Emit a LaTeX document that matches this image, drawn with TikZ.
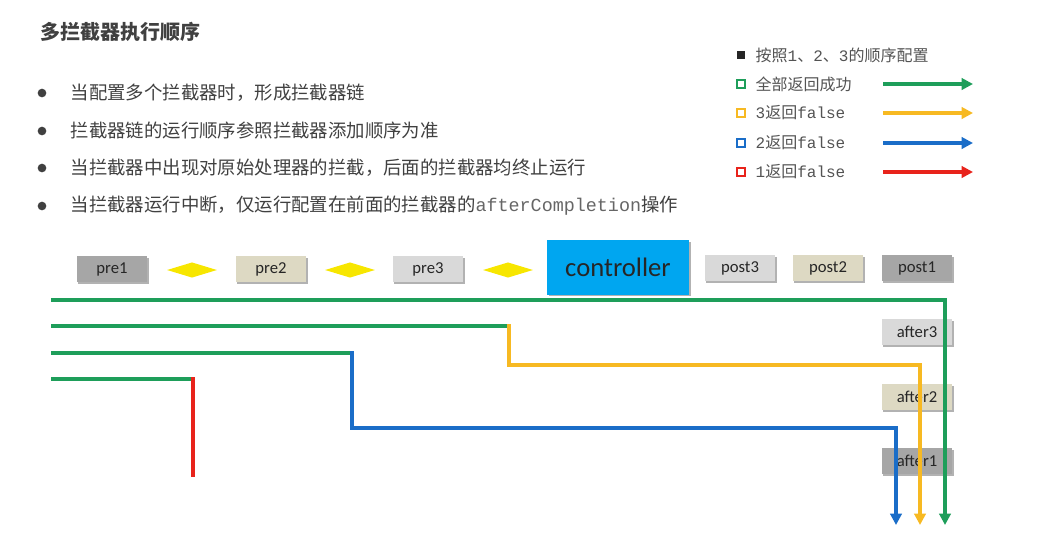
\documentclass[tikz,border=0pt]{standalone}
\usepackage{fontspec}
\setmainfont{Noto Sans CJK SC}
\setmonofont{Liberation Mono}
\newfontfamily\boxfont{Carlito}
\usepackage{xcolor}
\usepackage{tikz}
\usetikzlibrary{positioning,calc,arrows.meta,shapes.geometric,shadows}
\definecolor{txtgray}{HTML}{404040}
\definecolor{okgreen}{HTML}{1E9E5A}
\definecolor{falseyellow}{HTML}{F7B922}
\definecolor{falseblue}{HTML}{1A6DC8}
\definecolor{falsered}{HTML}{E8231B}
\definecolor{ctrlblue}{HTML}{00A6F0}
\definecolor{darkbox}{HTML}{A6A6A6}
\definecolor{beigebox}{HTML}{DDD9C3}
\definecolor{lightbox}{HTML}{D9D9D9}
\definecolor{linkyellow}{HTML}{F7E600}

\begin{document}
\begin{tikzpicture}[x=0.75pt, y=-0.75pt,
  stage/.style={inner sep=0pt, minimum width=53pt, minimum height=19.5pt,
    font=\boxfont\fontsize{12.5}{14}\selectfont, text=black!85,
    drop shadow={shadow xshift=1.2pt, shadow yshift=-1.2pt, opacity=0.3, fill=black}},
  link/.style={diamond, fill=linkyellow, inner sep=0pt, aspect=3.3,
    minimum width=37.5pt, minimum height=11.5pt},
  flow/.style={line width=3pt},
  tip/.style={-{Triangle[length=8.5pt, width=8.5pt]}},
  bullet/.style={circle, fill=txtgray, inner sep=0pt, minimum size=6.5pt},
  point/.style={anchor=west, text=txtgray, font=\fontsize{13.8}{16}\selectfont},
  legend/.style={anchor=west, text=txtgray!90, font=\fontsize{12}{14}\selectfont},
  mark/.style={draw=#1, line width=1.5pt, fill=white, inner sep=0pt, minimum size=6pt}]
  \useasboundingbox (0,0) rectangle (1042,533);

  % Title and bullet points
  \node[anchor=west, text=txtgray, font=\bfseries\fontsize{15}{18}\selectfont] (title) at (36,32) {多拦截器执行顺序};
  \node[bullet] (b1) at (42,93) {};
  \node[point] (p1) at (66,93) {当配置多个拦截器时，形成拦截器链};
  \node[bullet] (b2) at (42,131) {};
  \node[point] (p2) at (66,131) {拦截器链的运行顺序参照拦截器添加顺序为准};
  \node[bullet] (b3) at (42,168) {};
  \node[point] (p3) at (66,168) {当拦截器中出现对原始处理器的拦截，后面的拦截器均终止运行};
  \node[bullet] (b4) at (42,206) {};
  \node[point] (p4) at (66,206) {当拦截器运行中断，仅运行配置在前面的拦截器的\textcolor{txtgray!80}{\texttt{afterCompletion}}操作};

  % Legend
  \node[fill=black!85, inner sep=0pt, minimum size=6.5pt] (m0) at (741,55) {};
  \node[legend] (l0) at (751,55) {按照\texttt{1}、\texttt{2}、\texttt{3}的顺序配置};
  \node[mark=okgreen] (m1) at (741,84) {};
  \node[legend] (l1) at (751,84) {全部返回成功};
  \node[mark=falseyellow] (m2) at (741,113) {};
  \node[legend] (l2) at (751,113) {\texttt{3}返回\texttt{false}};
  \node[mark=falseblue] (m3) at (741,143) {};
  \node[legend] (l3) at (751,143) {\texttt{2}返回\texttt{false}};
  \node[mark=falsered] (m4) at (741,172) {};
  \node[legend] (l4) at (751,172) {\texttt{1}返回\texttt{false}};
  \coordinate (g0) at (883,84);  \coordinate (g1) at (973,84);
  \coordinate (y0) at (883,113); \coordinate (y1) at (973,113);
  \coordinate (u0) at (883,143); \coordinate (u1) at (973,143);
  \coordinate (r0) at (883,172); \coordinate (r1) at (973,172);
  \draw[flow, okgreen, tip] (g0) -- (g1);
  \draw[flow, falseyellow, tip] (y0) -- (y1);
  \draw[flow, falseblue, tip] (u0) -- (u1);
  \draw[flow, falsered, tip] (r0) -- (r1);

  % Interceptor chain
  \node[stage, fill=darkbox] (pre1) at (112,269) {pre1};
  \node[link] (d1) at (192,270) {};
  \node[stage, fill=beigebox] (pre2) at (271,269) {pre2};
  \node[link] (d2) at (350,270) {};
  \node[stage, fill=lightbox] (pre3) at (428,269) {pre3};
  \node[link] (d3) at (508,270) {};
  \node[stage, fill=ctrlblue, minimum width=106.5pt, minimum height=41pt,
    font=\boxfont\fontsize{20}{24}\selectfont] (ctrl) at (618,267.5) {controller};
  \node[stage, fill=lightbox] (post3) at (740,268) {post3};
  \node[stage, fill=beigebox] (post2) at (828,268) {post2};
  \node[stage, fill=darkbox] (post1) at (917,268) {post1};

  % afterCompletion
  \node[stage, fill=lightbox] (after3) at (917,332) {after3};
  \node[stage, fill=beigebox] (after2) at (917,397) {after2};
  \node[stage, fill=darkbox] (after1) at (917,461) {after1};

  % Flows
  \coordinate (s1) at (51,300); \coordinate (e1) at (945,525);
  \draw[flow, okgreen, tip] (s1) -| (e1);

  \coordinate (s2) at (51,326); \coordinate (k2) at (509,326);
  \coordinate (t2) at (920,365); \coordinate (e2) at (920,525);
  \draw[flow, okgreen] (s2) -- (k2);
  \draw[flow, falseyellow, line cap=rect, tip] (k2) |- (t2) -- (e2);

  \coordinate (s3) at (51,353); \coordinate (k3) at (352,353);
  \coordinate (t3) at (896,428); \coordinate (e3) at (896,525);
  \draw[flow, okgreen] (s3) -- (k3);
  \draw[flow, falseblue, line cap=rect, tip] (k3) |- (t3) -- (e3);

  \coordinate (s4) at (51,379); \coordinate (k4) at (193,379);
  \coordinate (e4) at (193,475);
  \draw[flow, okgreen] (s4) -- (k4);
  \draw[flow, falsered, line cap=rect] (k4) -- (e4);
\end{tikzpicture}
\end{document}
